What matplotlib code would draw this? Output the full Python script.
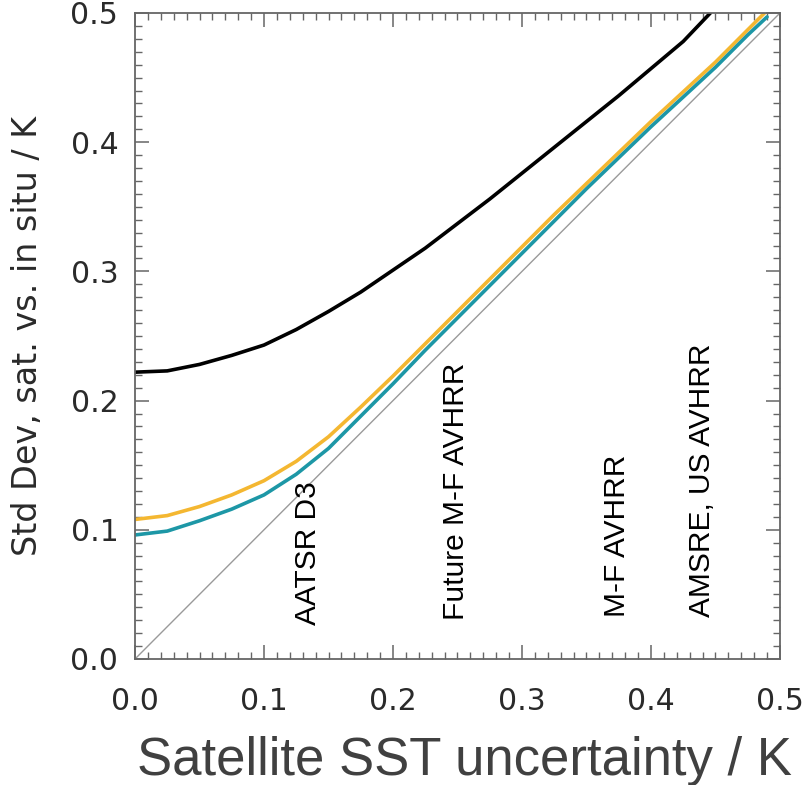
import matplotlib
matplotlib.use("Agg")
import matplotlib.pyplot as plt
from matplotlib.ticker import MultipleLocator

# Satellite SST uncertainty (K) sample points
x_black = [0.0, 0.025, 0.05, 0.075, 0.10, 0.125, 0.15, 0.175, 0.20, 0.225,
           0.25, 0.275, 0.30, 0.325, 0.35, 0.375, 0.40, 0.425, 0.446]
y_black = [0.222, 0.223, 0.228, 0.235, 0.243, 0.255, 0.269, 0.284, 0.301, 0.318,
           0.337, 0.356, 0.376, 0.396, 0.416, 0.436, 0.457, 0.478, 0.500]

x_col = [0.0, 0.025, 0.05, 0.075, 0.10, 0.125, 0.15, 0.175, 0.20, 0.225, 0.25,
         0.275, 0.30, 0.325, 0.35, 0.375, 0.40, 0.425, 0.45, 0.475, 0.49]
y_yellow = [0.108, 0.111, 0.118, 0.127, 0.138, 0.153, 0.172, 0.195, 0.219, 0.244, 0.269,
            0.294, 0.319, 0.344, 0.368, 0.392, 0.416, 0.439, 0.462, 0.487, 0.502]
y_teal = [0.096, 0.099, 0.107, 0.116, 0.127, 0.143, 0.163, 0.188, 0.213, 0.239, 0.264,
          0.289, 0.314, 0.339, 0.364, 0.388, 0.412, 0.435, 0.458, 0.483, 0.497]

# sensor annotations
sensors = ["AATSR D3", "Future M-F AVHRR", "M-F AVHRR", "AMSRE, US AVHRR"]
sensor_x = [0.134, 0.249, 0.374, 0.4395]
sensor_y = [0.026, 0.030, 0.0325, 0.0325]

fig = plt.figure(figsize=(8.06, 7.85), dpi=100)
ax = fig.add_axes([135 / 806, 1 - 659 / 785, 645 / 806, 646 / 785])

ax.plot([0, 0.5], [0, 0.5], color="#9a9a9a", linewidth=1.0)
line_kw = dict(linewidth=2.6, solid_joinstyle="round", solid_capstyle="round")
ax.plot(x_black, y_black, color="black", **line_kw)
ax.plot(x_col, y_yellow, color="#f4b731", **line_kw)
ax.plot(x_col, y_teal, color="#1d97a6", **line_kw)

for name, sx, sy in zip(sensors, sensor_x, sensor_y):
    ax.text(sx, sy, name, rotation=90, ha="center", va="bottom",
            fontsize=21.5, family="Liberation Sans", color="black")

ax.set_xlim(0, 0.5)
ax.set_ylim(0, 0.5)
ax.xaxis.set_major_locator(MultipleLocator(0.1))
ax.yaxis.set_major_locator(MultipleLocator(0.1))
ax.xaxis.set_minor_locator(MultipleLocator(0.01))
ax.yaxis.set_minor_locator(MultipleLocator(0.01))
ax.xaxis.set_major_formatter(plt.FuncFormatter(lambda v, p: f"{v:.1f}"))
ax.yaxis.set_major_formatter(plt.FuncFormatter(lambda v, p: f"{v:.1f}"))

for s in ax.spines.values():
    s.set_color("#666666")
    s.set_linewidth(1.3)
ax.tick_params(which="both", direction="in", top=True, right=True,
               color="#666666", labelcolor="#2a2a2a", labelsize=21.5)
ax.tick_params(which="major", length=10, width=1.1)
ax.tick_params(which="minor", length=5, width=1.0)
ax.tick_params(axis="x", which="major", pad=20)
ax.tick_params(axis="y", which="major", pad=12)

fig.text(28 / 806, 1 - 336 / 785, "Std Dev, sat. vs. in situ / K", rotation=90,
         ha="center", va="center", fontsize=24, color="#2a2a2a")
fig.text(137 / 806, 10 / 785, "Satellite SST uncertainty / K", ha="left",
         va="baseline", fontsize=38, family="Liberation Sans", color="#404040")

fig.savefig("out.png", dpi=100)
